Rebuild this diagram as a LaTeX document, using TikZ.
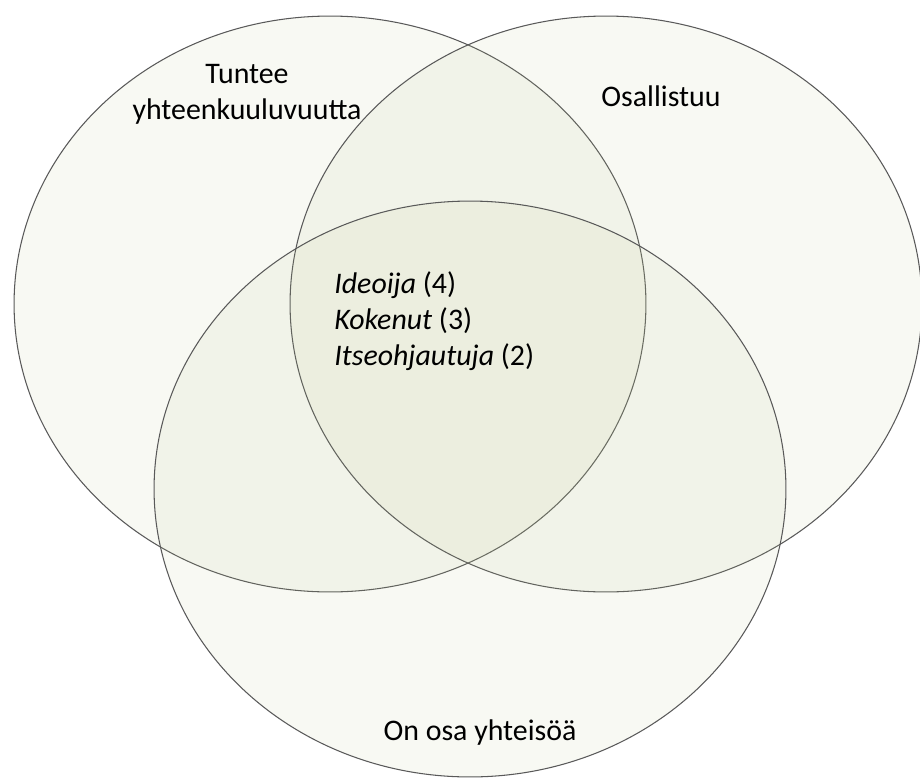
\documentclass[tikz,border=0pt]{standalone}
\usepackage{fontspec}
\setmainfont{Carlito}
\usetikzlibrary{shapes.geometric}
\definecolor{vennfill}{rgb}{0.72,0.76,0.55}
\tikzset{vennset/.style={ellipse,draw=black!65,line width=0.6pt,fill=vennfill,fill opacity=0.1,text opacity=1,minimum width=12.64cm,minimum height=11.52cm,inner sep=0},
vtext/.style={font=\fontsize{17}{20.5}\selectfont,inner sep=0}}

\begin{document}
\begin{tikzpicture}[x=0.02cm,y=-0.02cm]

\useasboundingbox (0,0) rectangle (920,778);

% The sets
\node[vennset] (feel) at (330,304) {};
\node[vennset] (part) at (606,304) {};
\node[vennset] (comm) at (470,489) {};

% Set labels
\node[vtext,align=center] (feel-lab) at (247,94) {Tuntee\\yhteenkuuluvuutta};
\node[vtext] (part-lab) at (661,96) {Osallistuu};
\node[vtext] (comm-lab) at (480,733) {On osa yhteisöä};

% The middle
\node[vtext,align=left,anchor=west] (types) at (334,321) {\textit{Ideoija} (4)\\\textit{Kokenut} (3)\\\textit{Itseohjautuja} (2)};

\end{tikzpicture}
\end{document}
